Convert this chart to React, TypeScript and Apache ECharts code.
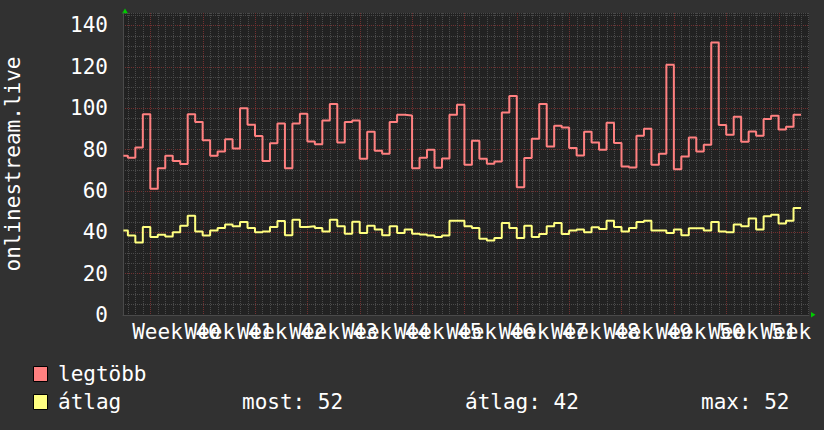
import React, { useEffect, useRef } from "react";
import * as echarts from "echarts";

// ---- data ----
const SERIES_NAMES = ["legtöbb", "átlag"];
const SERIES_COLORS = ["#ff8080", "#ffff80"];
// daily values; index 0 = partial day -4 (before week 40 starts at day 0)
const FIRST_DAY = -4;
const MAX_VALUES = [
  77, 76, 81, 97, 61, 71, 77, 74.5, 73, 97, 93.3, 84.5, 77, 79, 85, 80.5, 100, 92, 86.5, 74.5,
  83, 92.6, 71, 92.6, 97.3, 83.9, 82.6, 94, 102, 83.4, 93.3, 94, 75.5, 88.6, 79.4, 77.9, 93.3,
  96.8, 96.5, 71, 76, 79.9, 71.2, 75.7, 96.8, 101.6, 72.6, 84.2, 75.5, 73.1, 74.2, 97.9, 105.9,
  61.7, 75.9, 85.2, 102, 81.5, 91.5, 90.6, 80.7, 77.1, 88.6, 83.4, 79.9, 92.9, 83.1, 71.8, 71.3,
  86.6, 90, 72.6, 77.9, 121, 70.5, 76.6, 85.8, 79, 82.3, 131.7, 91.8, 87.1, 95.8, 83.7, 88.7,
  86.6, 94.8, 96.3, 89.7, 91, 96.8,
];
const AVG_VALUES = [
  40.9, 38.4, 35.1, 42.6, 37.7, 38.8, 38, 40, 43.2, 48, 40.4, 38.4, 40.8, 42.1, 43.7, 42.9, 45,
  42.1, 40, 40.4, 42.6, 45.5, 38.5, 46.1, 42.6, 42.9, 42.1, 40.4, 46.1, 42.9, 39.3, 45.1, 39.7,
  43.2, 41.3, 38.5, 42.9, 39.7, 41.3, 39.3, 38.9, 38.4, 37.7, 38.4, 45.6, 45.6, 42.9, 42.1, 36.9,
  36, 37.2, 44.5, 42.1, 37.2, 43.2, 37.7, 39.2, 42.9, 44.5, 39.2, 40.9, 41.3, 40, 42.4, 41.6,
  45.6, 42.6, 40.4, 42.1, 45, 45.6, 40.9, 40.8, 39.7, 41.3, 38.5, 41.9, 41.9, 40.9, 45, 40.4, 40,
  43.8, 42.9, 46.7, 41.3, 47.7, 48.5, 44.2, 45.6, 51.7,
];
const WEEK_NUMBERS = [40, 41, 42, 43, 44, 45, 46, 47, 48, 49, 50, 51, 52];
const STAT_LABELS = ["most", "átlag", "max"];
const STAT_VALUES = [52, 42, 52];
const Y_TITLE = "onlinestream.live";

// ---- layout / style ----
const W = 824;
const H = 430;
const G_LEFT = 123;
const G_RIGHT = 15;
const G_TOP = 13;
const G_BOTTOM = 115;
const X_MIN = -3.65;
const X_MAX = 88.07;
const DATA_START = -3.6;
const Y_MAX = 146;
const FONT = "DejaVu Sans Mono";
const FS = 21;
const BG = "#313131";
const PLOT_BG = "#222222";
const MINOR = "#4a4a4a";
const MAJOR = "#733030";
const ARROW = "#00cc00";

function stepPoints(vals: number[]) {
  const pts: number[][] = vals.map((v, i) => [Math.max(FIRST_DAY + i, DATA_START), v]);
  pts.push([FIRST_DAY + vals.length, vals[vals.length - 1]]);
  return pts;
}

export default function App() {
  const ref = useRef<HTMLDivElement>(null);
  useEffect(() => {
    if (!ref.current) return;
    const chart = echarts.init(ref.current, null, { renderer: "svg", width: W, height: H });
    const days: number[][] = [];
    for (let d = Math.ceil(X_MIN); d < X_MAX; d++) days.push([d, 0]);
    const weekCenters = WEEK_NUMBERS.map((_, i) => 3.5 + 7 * i);
    const evenCenters = weekCenters.filter((_, i) => i % 2 === 0);
    const oddCenters = weekCenters.filter((_, i) => i % 2 === 1);
    const plotRight = W - G_RIGHT;
    const plotBottom = H - G_BOTTOM;
    const textStyle = { fill: "#ffffff", font: `${FS}px "${FONT}"` };
    const legendRows = [374, 402];
    const labelAxis = (values: number[], showLine: boolean) => ({
      type: "value",
      min: X_MIN,
      max: X_MAX,
      position: "bottom",
      offset: 0,
      axisLine: { show: showLine, onZero: false, lineStyle: { color: "#4a4a4a", width: 1 } },
      axisTick: { show: false },
      splitLine: { show: false },
      axisLabel: {
        customValues: values,
        showMinLabel: true,
        showMaxLabel: true,
        hideOverlap: false,
        color: "#ffffff",
        fontFamily: FONT,
        fontSize: FS,
        margin: 6,
        formatter: (v: number) => `Week ${WEEK_NUMBERS[Math.floor(v / 7)]}`,
      },
    });
    chart.setOption({
      animation: false,
      backgroundColor: BG,
      textStyle: { fontFamily: FONT },
      grid: {
        left: G_LEFT,
        right: G_RIGHT,
        top: G_TOP,
        bottom: G_BOTTOM,
        containLabel: false,
        outerBoundsMode: "none",
        show: true,
        backgroundColor: PLOT_BG,
        borderWidth: 0,
      },
      xAxis: [labelAxis(evenCenters, true), labelAxis(oddCenters, false)],
      yAxis: {
        type: "value",
        min: 0,
        max: Y_MAX,
        interval: 5,
        name: Y_TITLE,
        nameLocation: "middle",
        nameRotate: 90,
        nameGap: 100,
        nameTextStyle: { color: "#ffffff", fontFamily: FONT, fontSize: FS },
        axisLine: { show: true, onZero: false, lineStyle: { color: "#4a4a4a", width: 1 } },
        axisTick: { show: false },
        axisLabel: {
          color: "#ffffff",
          fontFamily: FONT,
          fontSize: FS,
          margin: 15,
          formatter: (v: number) => (v % 20 === 0 ? String(v) : ""),
        },
        splitLine: {
          show: true,
          lineStyle: { color: [MAJOR, MINOR, MINOR, MINOR], width: 1, type: [1, 1] },
        },
      },
      series: [
        {
          type: "custom",
          silent: true,
          xAxisIndex: 0,
          data: days,
          encode: { x: 0, y: 1 },
          renderItem: (_p: any, api: any) => {
            const d = api.value(0);
            const top = api.coord([d, Y_MAX]);
            const bot = api.coord([d, 0]);
            const x = Math.round(top[0]) + 0.5;
            return {
              type: "line",
              shape: { x1: x, y1: top[1], x2: x, y2: bot[1] },
              style: { stroke: d % 7 === 0 ? MAJOR : MINOR, lineWidth: 1, lineDash: [1, 1] },
            };
          },
        },
        {
          name: SERIES_NAMES[0],
          type: "line",
          xAxisIndex: 0,
          step: "end",
          showSymbol: false,
          data: stepPoints(MAX_VALUES),
          lineStyle: { color: SERIES_COLORS[0], width: 2 },
          itemStyle: { color: SERIES_COLORS[0] },
        },
        {
          name: SERIES_NAMES[1],
          type: "line",
          xAxisIndex: 0,
          step: "end",
          showSymbol: false,
          data: stepPoints(AVG_VALUES),
          lineStyle: { color: SERIES_COLORS[1], width: 2 },
          itemStyle: { color: SERIES_COLORS[1] },
        },
      ],
      graphic: [
        {
          type: "polygon",
          shape: { points: [[G_LEFT - 1, G_TOP + 0.5], [G_LEFT + 5, G_TOP + 0.5], [G_LEFT + 2, G_TOP - 4.5]] },
          style: { fill: ARROW },
        },
        {
          type: "polygon",
          shape: { points: [[plotRight + 2, plotBottom - 3], [plotRight + 2, plotBottom + 2.5], [plotRight + 6.5, plotBottom - 0.3]] },
          style: { fill: ARROW },
        },
        ...SERIES_NAMES.flatMap((name, i) => [
          {
            type: "rect",
            shape: { x: 33.5, y: legendRows[i] - 7.5, width: 14, height: 15 },
            style: { fill: SERIES_COLORS[i], stroke: "#000000", lineWidth: 1 },
          },
          {
            type: "text",
            x: 58,
            y: legendRows[i],
            style: { ...textStyle, text: name, verticalAlign: "middle", align: "left" },
          },
        ]),
        ...STAT_LABELS.map((lab, i) => ({
          type: "text",
          x: [242, 465, 701][i],
          y: legendRows[1],
          style: { ...textStyle, text: `${lab}: ${STAT_VALUES[i]}`, verticalAlign: "middle", align: "left" },
        })),
      ],
    });
    return () => chart.dispose();
  }, []);
  return <div ref={ref} style={{ position: "fixed", left: 0, top: 0, width: W, height: H }} />;
}
